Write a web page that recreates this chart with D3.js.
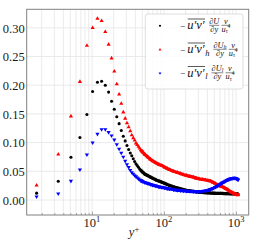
<!DOCTYPE html>
<html><head><meta charset="utf-8">
<script src="https://cdn.jsdelivr.net/npm/d3@7"></script>
<style>html,body{margin:0;padding:0;background:#fff;} svg{display:block;}</style>
</head><body><svg id="c" width="258" height="250"></svg>
<script>
// ---- data ----
const yPlus = [1.7, 3.4, 5.1, 6.8, 8.5, 10.2, 11.9, 13.6, 15.3, 17.0, 18.7, 20.4, 22.1, 23.8, 25.5,
  27.2, 28.9, 30.6, 32.3, 34.0, 35.7, 37.4, 39.1, 40.8, 42.5, 44.2, 45.9, 47.6, 49.3, 51.0,
  54.4, 59.5, 64.6, 69.7, 76.5, 85, 93.5, 102, 110.5, 119, 136, 153, 170, 187, 204, 229.5, 255,
  280.5, 306, 340, 374, 408, 442, 476, 510, 544, 578, 612, 646, 680, 714, 748, 782, 816, 850,
  884, 918, 952, 986, 1020, 1054, 1071];
const uvTotal = [0.012, 0.0326, 0.0744, 0.109, 0.149, 0.189, 0.205, 0.207, 0.200, 0.188, 0.172, 0.158,
  0.145, 0.133, 0.121, 0.111, 0.103, 0.095, 0.088, 0.082, 0.077, 0.072, 0.067, 0.063, 0.060, 0.057,
  0.054, 0.052, 0.050, 0.048,
  0.045, 0.0425, 0.040, 0.038, 0.0355, 0.033, 0.031, 0.029, 0.027, 0.0255, 0.023, 0.021, 0.0195,
  0.018, 0.017, 0.016, 0.015, 0.0142, 0.0137, 0.0132, 0.0128, 0.0125, 0.0122, 0.012, 0.0118, 0.0117,
  0.0116, 0.0115, 0.0114, 0.0113, 0.0112, 0.0111, 0.011, 0.011, 0.0109, 0.0108, 0.0108, 0.0107,
  0.0106, 0.0106, 0.0105, 0.0105];
const uvHigh = [0.0256, 0.0796, 0.146, 0.206, 0.269, 0.300, 0.316, 0.312, 0.293, 0.271, 0.247, 0.224,
  0.202, 0.184, 0.168, 0.153, 0.142, 0.134, 0.127, 0.120, 0.113, 0.108, 0.104, 0.099, 0.096, 0.093,
  0.090, 0.087, 0.085, 0.083,
  0.079, 0.075, 0.071, 0.068, 0.065, 0.062, 0.060, 0.057, 0.055, 0.053, 0.050, 0.048, 0.046, 0.044,
  0.043, 0.041, 0.040, 0.038, 0.037, 0.036, 0.035, 0.034, 0.033, 0.031, 0.029, 0.027, 0.026, 0.024,
  0.023, 0.022, 0.020, 0.019, 0.017, 0.0155, 0.014, 0.013, 0.012, 0.011, 0.010, 0.0095, 0.009, 0.0085];
const uvLow = [0.0058, 0.011, 0.033, 0.053, 0.079, 0.100, 0.115, 0.123, 0.123, 0.118, 0.112, 0.105,
  0.097, 0.089, 0.082, 0.075, 0.068, 0.062, 0.057, 0.052, 0.048, 0.0455, 0.043, 0.041, 0.039, 0.037,
  0.0355, 0.034, 0.033, 0.032,
  0.0305, 0.029, 0.0275, 0.026, 0.0245, 0.023, 0.022, 0.021, 0.020, 0.0193, 0.018, 0.017, 0.0165,
  0.016, 0.0155, 0.015, 0.0148, 0.0146, 0.0146, 0.015, 0.016, 0.017, 0.0185, 0.020, 0.022, 0.024,
  0.026, 0.028, 0.030, 0.0315, 0.033, 0.0345, 0.0355, 0.0365, 0.037, 0.0375, 0.038, 0.038, 0.038,
  0.037, 0.036, 0.035];
const yTickValues = [0.00, 0.05, 0.10, 0.15, 0.20, 0.25, 0.30];
const xMajorTicks = [10, 100, 1000];
const xMajorExp = ["1", "2", "3"];
const seriesColors = ["#000000", "#ff0000", "#0000ff"];
const denseFrom = 47; // y+ beyond which markers merge into a band

// ---- layout ----
const L = 26.7, R = 248.7, T = 9.3, B = 215;
const svg = d3.select("#c");
const x = d3.scaleLog().domain([1.239, 1501]).range([L, R]);
const y = d3.scaleLinear().domain([-0.0261, 0.3322]).range([B, T]);

// grid
const minor = [];
for (const p of [1, 10, 100, 1000]) for (let m = 1; m <= 9; m++) {
  const v = m * p; if (v > 1.239 && v < 1501) minor.push(v);
}
const grid = svg.append("g");
grid.selectAll("line.gx").data(minor).join("line")
  .attr("x1", d => x(d)).attr("x2", d => x(d)).attr("y1", T).attr("y2", B)
  .attr("stroke", "#e6e6e6").attr("stroke-width", 0.8);
grid.selectAll("line.gy").data(yTickValues).join("line")
  .attr("x1", L).attr("x2", R).attr("y1", d => y(d)).attr("y2", d => y(d))
  .attr("stroke", "#e4e4e4").attr("stroke-width", 0.8);

// axes via d3
const xAxisMinor = d3.axisBottom(x).tickValues(minor.filter(v => !xMajorTicks.includes(v)))
  .tickSize(-2).tickFormat("");
const xAxisMajor = d3.axisBottom(x).tickValues(xMajorTicks).tickSize(-3.5).tickFormat("");
[xAxisMinor, xAxisMajor].forEach(a => {
  const g = svg.append("g").attr("transform", `translate(0,${B})`).call(a);
  g.select(".domain").remove();
  g.selectAll("line").attr("stroke", "#888").attr("stroke-width", 0.7);
});
const yAxis = d3.axisLeft(y).tickValues(yTickValues).tickSize(0).tickPadding(2)
  .tickFormat(d3.format(".2f"));
const gy = svg.append("g").attr("transform", `translate(${L},0)`).call(yAxis);
gy.select(".domain").remove();
gy.selectAll("text").attr("font-family", "Liberation Serif").attr("font-size", 12.5)
  .attr("fill", "#1a1a1a").attr("dy", "0.34em");

// x tick labels 10^n
const xl = svg.append("g");
xMajorTicks.forEach((v, i) => {
  const t = xl.append("text").attr("x", x(v)).attr("y", 226.5).attr("text-anchor", "middle")
    .attr("font-family", "Liberation Serif").attr("font-size", 12.5).attr("fill", "#1a1a1a");
  t.append("tspan").text("10");
  t.append("tspan").attr("font-size", 8.5).attr("dy", -4.5).text(xMajorExp[i]);
});
// axis label y+
const xlab = svg.append("text").attr("x", 134).attr("y", 236).attr("text-anchor", "middle")
  .attr("font-family", "Liberation Serif").attr("font-size", 12.5).attr("fill", "#1a1a1a");
xlab.append("tspan").attr("font-style", "italic").text("y");
xlab.append("tspan").attr("font-size", 8.5).attr("dy", -4.5).text("+");

// data
const series = [uvTotal, uvHigh, uvLow];
const shapes = [d3.symbolCircle, d3.symbolTriangle, d3.symbolTriangle];
const sizes = [7.5, 7.5, 7.5];
const rot = [0, 0, 180];
const plot = svg.append("g");
series.forEach((vals, si) => {
  const pts = yPlus.map((yp, i) => [yp, vals[i]]);
  const dense = pts.filter(p => p[0] >= denseFrom);
  plot.append("path").datum(dense)
    .attr("d", d3.line().x(d => x(d[0])).y(d => y(d[1])).curve(d3.curveMonotoneX))
    .attr("fill", "none").attr("stroke", seriesColors[si]).attr("stroke-width", 3.3);
  plot.selectAll("path.m" + si).data(pts).join("path")
    .attr("d", d3.symbol().type(shapes[si]).size(sizes[si]))
    .attr("transform", d => `translate(${x(d[0])},${y(d[1])}) rotate(${rot[si]})`)
    .attr("fill", seriesColors[si]);
});

// spines
svg.append("rect").attr("x", L).attr("y", T).attr("width", R - L).attr("height", B - T)
  .attr("fill", "none").attr("stroke", "#808080").attr("stroke-width", 1);

// legend
const lg = svg.append("g");
lg.append("rect").attr("x", 145.3).attr("y", 14).attr("width", 97.7).attr("height", 75)
  .attr("rx", 2.5).attr("fill", "#fff").attr("fill-opacity", 0.85)
  .attr("stroke", "#d6d6d6").attr("stroke-width", 0.8);
const rowBase = [29, 53, 76.5];
const subs = ["", "h", "l"];
const FF = "Liberation Serif";
function addText(g, xx, yy, parts) {
  const t = g.append("text").attr("x", xx).attr("y", yy).attr("font-family", FF).attr("fill", "#111");
  parts.forEach(p => {
    const s = t.append("tspan").attr("font-size", p.size).text(p.t);
    if (p.it) s.attr("font-style", "italic");
    if (p.dy) s.attr("dy", p.dy);
  });
  return t;
}
rowBase.forEach((b, i) => {
  lg.append("path").attr("d", d3.symbol().type(shapes[i]).size(3.5))
    .attr("transform", `translate(160,${b - 3.3}) rotate(${rot[i]})`).attr("fill", seriesColors[i]);
  let cx = 180;
  const m = addText(lg, cx, b - 0.5, [{t: "\u2212", size: 9}]);
  cx += m.node().getComputedTextLength() + 2.2;
  const uv = addText(lg, cx, b, [{t: "u\u2032v\u2032", size: 12.5, it: true}]);
  const w = uv.node().getComputedTextLength();
  lg.append("line").attr("x1", cx + 0.5).attr("x2", cx + w + 0.5).attr("y1", b - 10).attr("y2", b - 10)
    .attr("stroke", "#111").attr("stroke-width", 0.7);
  cx += w + 0.8;
  if (subs[i]) {
    const s = addText(lg, cx, b + 2.5, [{t: subs[i], size: 8.5, it: true}]);
    cx += s.node().getComputedTextLength();
  }
  cx += 3.8;
  // fraction dU/dy
  const numParts = [{t: "\u2202", size: 8.3, it: true}, {t: "U", size: 8.3, it: true}];
  if (subs[i]) numParts.push({t: subs[i], size: 6, it: true, dy: 1.2});
  const n1 = addText(lg, 0, b - 5.4, numParts);
  const d1 = addText(lg, 0, b + 2.8, [{t: "\u2202y", size: 8.3, it: true}]);
  const w1 = Math.max(n1.node().getComputedTextLength(), d1.node().getComputedTextLength());
  n1.attr("x", cx + (w1 - n1.node().getComputedTextLength()) / 2);
  d1.attr("x", cx + (w1 - d1.node().getComputedTextLength()) / 2);
  lg.append("line").attr("x1", cx).attr("x2", cx + w1).attr("y1", b - 3.7).attr("y2", b - 3.7)
    .attr("stroke", "#111").attr("stroke-width", 0.5);
  cx += w1 + 2.2;
  // fraction nu/u_tau^4
  const n2 = addText(lg, 0, b - 5.4, [{t: "\u03bd", size: 8.3, it: true}]);
  const d2 = addText(lg, 0, b + 2.8, [{t: "u", size: 8.3, it: true}, {t: "\u03c4", size: 5.5, it: true, dy: 1.5},
    {t: "4", size: 5.5, dy: -5.5}]);
  const w2 = Math.max(n2.node().getComputedTextLength(), d2.node().getComputedTextLength());
  n2.attr("x", cx + (w2 - n2.node().getComputedTextLength()) / 2);
  d2.attr("x", cx + (w2 - d2.node().getComputedTextLength()) / 2);
  lg.append("line").attr("x1", cx).attr("x2", cx + w2).attr("y1", b - 3.7).attr("y2", b - 3.7)
    .attr("stroke", "#111").attr("stroke-width", 0.5);
});
</script>
</body></html>
